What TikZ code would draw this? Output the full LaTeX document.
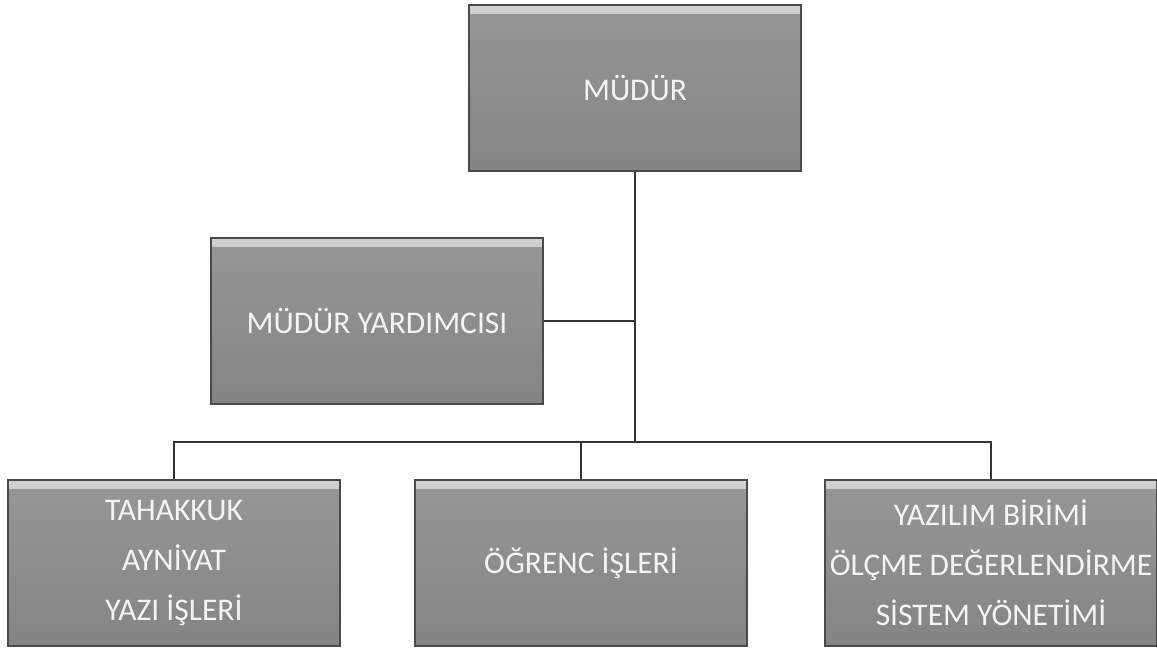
\documentclass[tikz,border=0pt]{standalone}
\usepackage{fontspec}
\setmainfont{Carlito}
\usepackage{tikz}
\usetikzlibrary{calc,positioning}
\usepackage{xcolor}
\definecolor{mgray}{HTML}{8A8A8A}
\definecolor{mtop}{HTML}{979797}
\definecolor{mbot}{HTML}{848484}
\definecolor{medge}{HTML}{4A4A4A}
\definecolor{mline}{HTML}{333333}
\definecolor{mtext}{HTML}{F4F4F4}
\tikzstyle{unit}=[rectangle, draw=medge, line width=1.6, top color=mtop, bottom color=mbot,
  minimum width=332, minimum height=166, inner sep=0pt, text=mtext, align=center,
  font=\fontsize{31.5}{50}\selectfont,
  path picture={\fill[white, opacity=0.55] (path picture bounding box.north west) rectangle ([yshift=-9pt]path picture bounding box.north east);}]
\tikzstyle{l1}=[line width=1.6, draw=mline]

\begin{document}
\begin{tikzpicture}[x=1pt, y=-1pt]
    \useasboundingbox (0,0) rectangle (1157,648);
    \node[unit] at (635, 88) (mudur) {MÜDÜR};
    \node[unit] at (377, 321) (yard) {MÜDÜR YARDIMCISI};
    \node[unit] at (174, 563) (birim1) {TAHAKKUK\\AYNİYAT\\YAZI İŞLERİ};
    \node[unit] at (581, 563) (birim2) {ÖĞRENC İŞLERİ};
    \node[unit] at (991, 563) (birim3) {YAZILIM BİRİMİ\\ÖLÇME DEĞERLENDİRME\\SİSTEM YÖNETİMİ};

    \coordinate (bus) at (635, 442);
    \draw[l1] (mudur.south) -- (bus);
    \draw[l1] (yard.east) -- (yard.east -| bus);
    \draw[l1] (birim1.north) |- (bus) -| (birim3.north);
    \draw[l1] (birim2.north) -- (birim2.north |- bus);
\end{tikzpicture}
\end{document}
